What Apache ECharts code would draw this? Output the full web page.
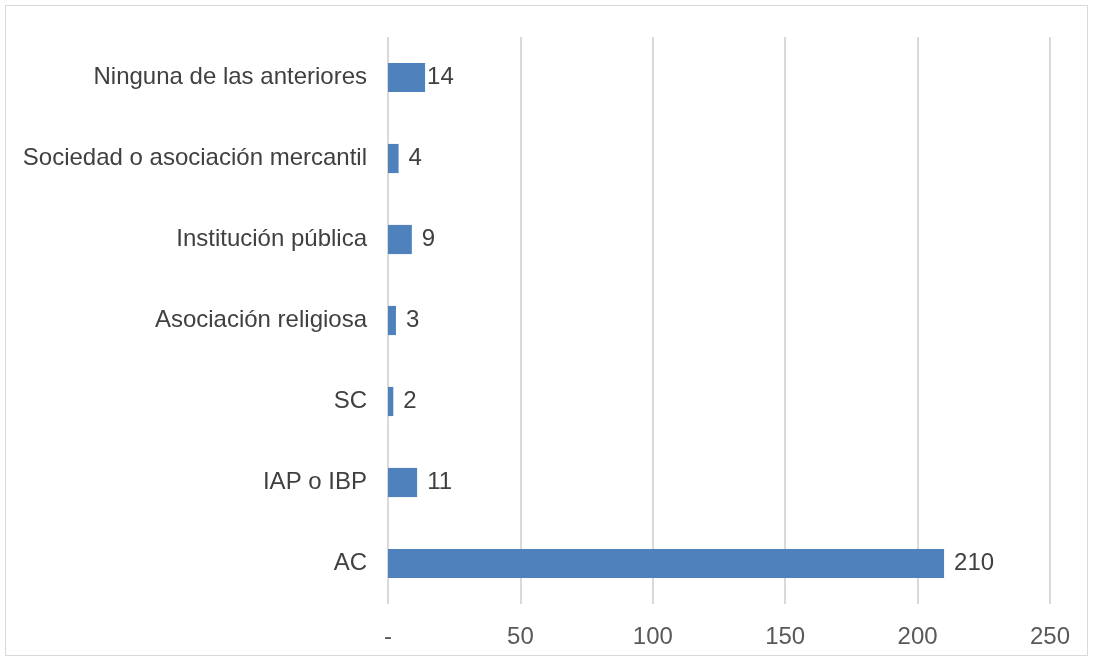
<!DOCTYPE html>
<html>
<head>
<meta charset="utf-8">
<script src="https://cdn.jsdelivr.net/npm/echarts@6/dist/echarts.min.js"></script>
<style>
  html, body { margin: 0; padding: 0; background: #fff; }
  #chart { width: 1093px; height: 660px; position: relative; }
  .frame { position: absolute; left: 5px; top: 5px; right: 5px; bottom: 4px; border: 1px solid #d9d9d9; pointer-events: none; }
</style>
</head>
<body>
<div id="chart"></div>
<script>
// data, bottom to top as drawn
var categories = ['AC', 'IAP o IBP', 'SC', 'Asociación religiosa', 'Institución pública', 'Sociedad o asociación mercantil', 'Ninguna de las anteriores'];
var values = [210, 11, 2, 3, 9, 4, 14];
var xTicks = [0, 50, 100, 150, 200, 250];

var chart = echarts.init(document.getElementById('chart'));
var font = 'Liberation Sans, Arial, sans-serif';

var option = {
  backgroundColor: '#fff',
  animation: false,
  grid: { left: 388, right: 43, top: 37, bottom: 56 },
  xAxis: {
    type: 'value',
    min: xTicks[0],
    max: xTicks[xTicks.length - 1],
    interval: 50,
    axisLine: { show: false },
    axisTick: { show: false },
    splitLine: { show: true, lineStyle: { color: '#d9d9d9', width: 2 } },
    axisLabel: {
      color: '#595959', fontSize: 24, fontFamily: font, margin: 21,
      formatter: function (v) { return v === 0 ? '-' : v; }
    }
  },
  yAxis: {
    type: 'category',
    data: categories,
    axisLine: { show: false },
    axisTick: { show: false },
    axisLabel: { color: '#404040', fontSize: 24, fontFamily: font, margin: 21 }
  },
  series: [{
    type: 'bar',
    barWidth: '36%',
    itemStyle: { color: '#4f81bd' },
    label: {
      show: true, position: 'right', distance: 10,
      color: '#404040', fontSize: 24, fontFamily: font
    },
    data: values.map(function (v) {
      return v === 14 ? { value: v, label: { distance: 2 } } : v;
    })
  }]
};
chart.setOption(option);
</script>
<div class="frame"></div>
</body>
</html>
